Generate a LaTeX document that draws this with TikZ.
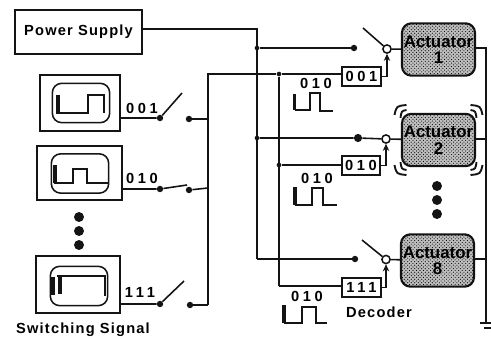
\documentclass[tikz,border=0pt]{standalone}
\usepackage{fontspec}
\setmainfont{Liberation Sans}
\newfontfamily\labelfont[LetterSpace=8]{Liberation Sans}
\newfontfamily\codefont[LetterSpace=25]{Liberation Sans}
\usetikzlibrary{positioning, arrows.meta, patterns}
\definecolor{InkBlack}{RGB}{20,20,20}
\tikzset{
  wire/.style={InkBlack, line width=1.35pt},
  busarrow/.style={-{Stealth[length=6pt,width=5.5pt]}, InkBlack, line width=1.35pt},
  framebox/.style={draw=InkBlack, line width=1.5pt, fill=white, inner sep=0pt},
  screenbox/.style={draw=InkBlack, line width=1.3pt, rounded corners=8pt, inner sep=0pt,
    minimum width=1.72cm, minimum height=1.18cm},
  decbox/.style={framebox, minimum width=1.16cm, minimum height=0.57cm, codetext},
  actbox/.style={draw=InkBlack, line width=1.8pt, rounded corners=8pt, fill=gray!50, inner sep=0pt,
    postaction={pattern=crosshatch dots, pattern color=black},
    minimum width=2.19cm, minimum height=1.57cm},
  acttext/.style={font=\bfseries\fontsize{14.4}{14}\selectfont, align=center, inner sep=0pt},
  codetext/.style={font=\codefont\bfseries\fontsize{12.5}{12.5}\selectfont, inner sep=0pt},
  labeltext/.style={font=\labelfont\bfseries\fontsize{12.5}{12.5}\selectfont, inner sep=0pt},
  contact/.style={circle, fill=InkBlack, inner sep=0pt, minimum size=5.5pt},
  joint/.style={circle, fill=InkBlack, inner sep=0pt, minimum size=4pt},
  pole/.style={circle, draw=InkBlack, line width=1.3pt, fill=white, inner sep=0pt, minimum size=7pt},
  bigdot/.style={circle, fill=InkBlack, inner sep=0pt, minimum size=8.5pt},
  pulse/.style={InkBlack, line width=1.15pt},
  thickpulse/.style={InkBlack, line width=3pt},
}
\begin{document}
\begin{tikzpicture}[x=0.03cm,y=-0.03cm]
  \useasboundingbox (0,0) rectangle (491,339);
  % power supply and the two rails
  \node[framebox, minimum width=3.81cm, minimum height=1.32cm, labeltext] (power) at (78.5,32) {Power Supply};
  \coordinate (railtop) at (257,29);
  \coordinate (sigtop) at (208,74);
  \node[joint] (jp1) at (257,48) {};
  \node[joint] (jp2) at (257,138) {};
  \coordinate (jp8) at (257,259);
  \node[joint] (js1) at (279,74) {};
  \node[joint] (js2) at (279,165) {};
  \coordinate (js8) at (279,286);
  \draw[wire] (power.east |- railtop) -- (railtop) -- (jp8);
  \draw[wire] (js1) -- (js8);

  % left side, switching signals
  \node[framebox, minimum width=2.4cm, minimum height=1.68cm] (gen1) at (80,103) {};
  \node[framebox, minimum width=2.56cm, minimum height=1.62cm] (gen2) at (79.5,173) {};
  \node[framebox, minimum width=2.52cm, minimum height=1.71cm] (gen3) at (78,284.5) {};
  \node[screenbox] (scr1) at (81,103) {};
  \node[screenbox] (scr2) at (80,173.5) {};
  \node[screenbox] (scr3) at (79,286) {};
  \draw[pulse] (58,95) -- (58,113) -- (88,113) -- (88,95) -- (104,95) -- (104,113);
  \draw[thickpulse] (58,95) -- (58,114);
  \draw[pulse] (55,165) -- (55,183) -- (73,183) -- (73,169) -- (87,169) -- (87,183) -- (108,183);
  \draw[thickpulse] (55,165) -- (55,183);
  \draw[pulse] (57,276) -- (105,276) -- (105,296);
  \draw[thickpulse] (53,277) -- (53,295);
  \draw[thickpulse] (60,276) -- (60,294);
  \node[bigdot] (dl1) at (79,217) {};
  \node[bigdot] (dl2) at (79,231) {};
  \node[bigdot] (dl3) at (79,245) {};
  \node[codetext] (code1) at (142,108) {001};
  \node[codetext] (code2) at (142,178) {010};
  \node[codetext] (code3) at (140,292) {111};
  \node[labeltext] (swlabel) at (83,330) {Switching Signal};

  \node[contact] (sa1) at (160,118) {};
  \node[contact] (sb1) at (189,119) {};
  \coordinate (arm1) at (182,93);
  \node[contact] (sa2) at (160,189) {};
  \node[contact] (sb2) at (189,190) {};
  \coordinate (arm2) at (187,185);
  \node[contact] (sa3) at (160,304) {};
  \node[contact] (sb3) at (190,305) {};
  \coordinate (arm3) at (184,281);
  \coordinate (sj1) at (208,119);
  \coordinate (sj2) at (208,188);
  \coordinate (sj3) at (208,305);
  \draw[wire] (gen1.east |- sa1) -- (sa1) -- (arm1);
  \draw[wire] (gen2.east |- sa2) -- (sa2) -- (arm2);
  \draw[wire] (gen3.east |- sa3) -- (sa3) -- (arm3);
  \draw[wire] (sb1) -- (sj1);
  \draw[wire] (sb2) -- (sj2);
  \draw[wire] (sb3) -- (sj3);
  \draw[wire] (sj3) -- (sigtop) -- (js1);

  % right side, actuators and decoders
  \node[actbox] (act1) at (438.5,49.5) {};
  \node[actbox] (act2) at (438.5,140) {};
  \node[actbox] (act8) at (437.5,260.5) {};
  \node[acttext] (act1text) at (act1) {Actuator\\1};
  \node[acttext] (act2text) at (act2) {Actuator\\2};
  \node[acttext] (act8text) at (act8) {Actuator\\8};
  \node[decbox] (dec1) at (361.5,76.5) {001};
  \node[decbox] (dec2) at (361,165.5) {010};
  \node[decbox] (dec8) at (361.5,287.5) {111};
  \node[pole] (pole1) at (387,49) {};
  \node[pole] (pole2) at (386,139) {};
  \node[pole] (pole8) at (386,259.5) {};
  \node[contact] (cp1) at (354,48) {};
  \node[contact, minimum size=7pt] (cp2) at (358,138) {};
  \node[contact] (cp8) at (355,259) {};
  \coordinate (up1) at (363,28);
  \coordinate (up8) at (362,240);
  \draw[wire] (jp1) -- (cp1);
  \draw[wire] (jp2) -- (cp2) -- (pole2);
  \draw[wire] (jp8) -- (cp8);
  \draw[wire] (up1) -- (pole1);
  \draw[wire] (up8) -- (pole8);
  \draw[wire] (pole1) -- (act1);
  \draw[wire] (pole2) -- (act2);
  \draw[wire] (pole8) -- (act8);
  \draw[wire] (js1) -- (dec1.west |- js1);
  \draw[wire] (js2) -- (dec2.west |- js2);
  \draw[wire] (js8) -- (dec8.west |- js8);
  \draw[busarrow] (dec1.east) -| (pole1.south);
  \draw[busarrow] (dec2.east) -| (pole2.south);
  \draw[busarrow] (dec8.east) -| (pole8.south);

  % return rail and ground
  \coordinate (gnd) at (486,323);
  \coordinate (ra1) at (486,48);
  \coordinate (ra2) at (486,139);
  \coordinate (ra8) at (486,259);
  \draw[wire] (act1.east |- ra1) -- (ra1) -- (gnd);
  \draw[wire] (act2.east |- ra2) -- (ra2);
  \draw[wire] (act8.east |- ra8) -- (ra8);
  \draw[wire, line width=1.5pt] (480,323) -- (491,323);
  \draw[wire, line width=1.5pt] (484,328) -- (491,328);

  % pulses beside the decoders
  \node[codetext] (pc1) at (316,83) {010};
  \node[codetext] (pc2) at (317,178) {010};
  \node[codetext] (pc3) at (307,296) {010};
  \node[labeltext] (declabel) at (379,312) {Decoder};
  \draw[pulse] (295,110) -- (310,110) -- (310,93) -- (320,93) -- (320,111) -- (333,111);
  \draw[thickpulse] (294.5,94) -- (294.5,110);
  \draw[pulse] (295,205) -- (312,205) -- (312,188) -- (323,188) -- (323,205) -- (337,205);
  \draw[thickpulse] (295,187) -- (295,205);
  \draw[pulse] (284,323) -- (302,323) -- (302,307) -- (316,307) -- (316,323) -- (327,323);
  \draw[thickpulse] (284,305) -- (284,323);

  % vibration marks round actuator 2
  \foreach \sx/\sy in {-1/-1,1/-1,-1/1,1/1} {
    \draw[wire, line width=1.6pt] (438.5+\sx*44,140+\sy*25) .. controls (438.5+\sx*42,140+\sy*34) .. (438.5+\sx*32,140+\sy*35);
    \draw[wire, line width=1.6pt] (438.5+\sx*38,140+\sy*22) .. controls (438.5+\sx*37,140+\sy*29) .. (438.5+\sx*32,140+\sy*30);
  }
  \node[bigdot] (dr1) at (437,186) {};
  \node[bigdot] (dr2) at (437,200) {};
  \node[bigdot] (dr3) at (437,214) {};
\end{tikzpicture}
\end{document}
